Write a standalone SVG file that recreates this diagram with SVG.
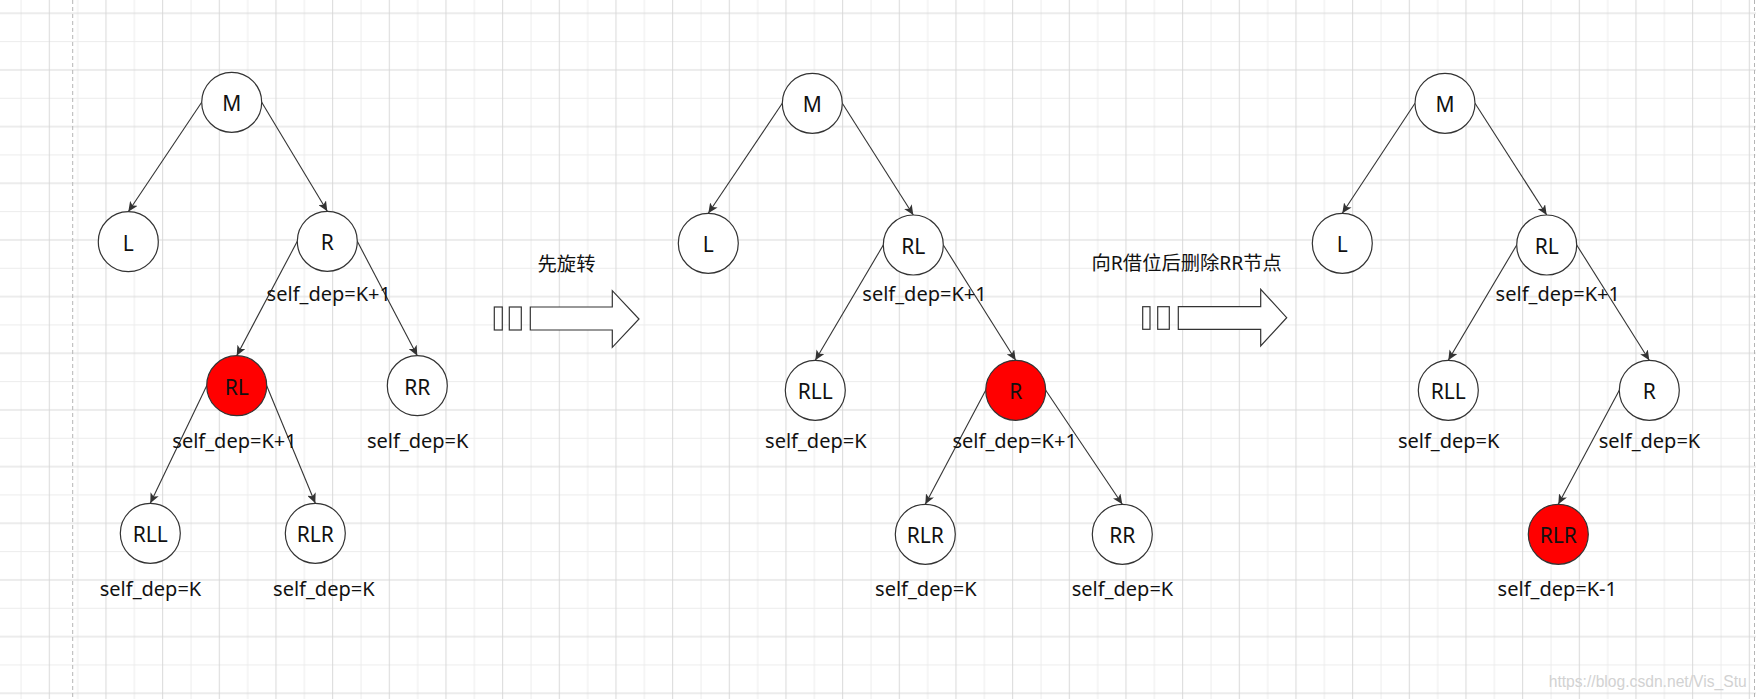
<svg xmlns="http://www.w3.org/2000/svg" width="1756" height="699" viewBox="0 0 1756 699">
<style>
.node{stroke:#333;stroke-width:1.2;fill:#fff}
.red{fill:#ff0000}
.nl{font-family:"Noto Sans","Liberation Sans",sans-serif;font-size:21px;fill:#111;text-anchor:middle}
.lb{font-family:"Noto Sans","Liberation Sans",sans-serif;font-size:20px;fill:#111;text-anchor:middle}
.cn{font-family:"Noto Sans","Noto Sans CJK SC",sans-serif;font-size:19.3px;fill:#111;text-anchor:middle}
.edge{stroke:#333;stroke-width:1.1;fill:none;marker-end:url(#arr)}
.shape{stroke:#333;stroke-width:1.2;fill:#fff}
</style>
<defs>
<pattern id="grid" x="11" y="3.333" width="56.667" height="56.667" patternUnits="userSpaceOnUse">
<path d="M10,0V56.667M0,38.333H56.667" stroke="#ececec" stroke-width="1" fill="none"/>
<path d="M38.333,0V56.667M0,10H56.667" stroke="#d9d9d9" stroke-width="1" fill="none"/>
</pattern>
<marker id="arr" markerUnits="userSpaceOnUse" markerWidth="11" markerHeight="9" refX="10" refY="4.5" orient="auto">
<path d="M0,0L10,4.5L0,9L2.5,4.5z" fill="#333"/>
</marker>
</defs>
<rect width="1756" height="699" fill="#fff"/>
<rect width="1756" height="699" fill="url(#grid)"/>
<line x1="72.7" y1="0" x2="72.7" y2="699" stroke="#b5b5b5" stroke-dasharray="4 3"/>
<line x1="1754.5" y1="0" x2="1754.5" y2="699" stroke="#b5b5b5" stroke-dasharray="4 3"/>

<g id="connectors">
<line class="edge" x1="201.7" y1="102.3" x2="128.3" y2="211.7"/>
<line class="edge" x1="261.7" y1="102.3" x2="327.3" y2="211.3"/>
<line class="edge" x1="297.3" y1="241.3" x2="236.7" y2="355.7"/>
<line class="edge" x1="357.3" y1="241.3" x2="417.3" y2="355.7"/>
<line class="edge" x1="206.7" y1="385.7" x2="150.3" y2="503.3"/>
<line class="edge" x1="266.7" y1="385.7" x2="315.3" y2="503.3"/>
<line class="edge" x1="782.3" y1="103.3" x2="708.3" y2="213.3"/>
<line class="edge" x1="842.3" y1="103.3" x2="913.3" y2="215"/>
<line class="edge" x1="883.3" y1="245" x2="815.3" y2="360.3"/>
<line class="edge" x1="943.3" y1="245" x2="1015.7" y2="360.3"/>
<line class="edge" x1="985.7" y1="390.3" x2="925.3" y2="504.3"/>
<line class="edge" x1="1045.7" y1="390.3" x2="1122.3" y2="504.3"/>
<line class="edge" x1="1415" y1="103.3" x2="1342.3" y2="213.3"/>
<line class="edge" x1="1475" y1="103.3" x2="1546.7" y2="215"/>
<line class="edge" x1="1516.7" y1="245" x2="1448.3" y2="360.3"/>
<line class="edge" x1="1576.7" y1="245" x2="1649.3" y2="360.3"/>
<line class="edge" x1="1619.3" y1="390.3" x2="1558.3" y2="504.3"/>
</g>

<!-- Tree 1 -->
<g id="t1-M"><circle class="node" cx="231.7" cy="102.3" r="30"/><text class="nl" x="231.7" y="111.2">M</text></g>
<g id="t1-L"><circle class="node" cx="128.3" cy="241.7" r="30"/><text class="nl" x="128.3" y="250.6">L</text></g>
<g id="t1-R"><circle class="node" cx="327.3" cy="241.3" r="30"/><text class="nl" x="327.3" y="250.2">R</text><text class="lb" x="328.8" y="300.7">self_dep=K+1</text></g>
<g id="t1-RL"><circle class="node red" cx="236.7" cy="385.7" r="30"/><text class="nl" x="236.7" y="394.5">RL</text><text class="lb" x="234.5" y="447.7">self_dep=K+1</text></g>
<g id="t1-RR"><circle class="node" cx="417.3" cy="385.7" r="30"/><text class="nl" x="417.3" y="394.5">RR</text><text class="lb" x="417.7" y="447.7">self_dep=K</text></g>
<g id="t1-RLL"><circle class="node" cx="150.3" cy="533.3" r="30"/><text class="nl" x="150.3" y="542.1">RLL</text><text class="lb" x="150.5" y="596">self_dep=K</text></g>
<g id="t1-RLR"><circle class="node" cx="315.3" cy="533.3" r="30"/><text class="nl" x="315.3" y="542.1">RLR</text><text class="lb" x="323.8" y="596">self_dep=K</text></g>

<!-- Arrow 1 -->
<g id="arrow1">
<text class="cn" x="566.5" y="271">先旋转</text>
<rect class="shape" x="494.3" y="307" width="8" height="23" fill="none"/>
<rect class="shape" x="509.3" y="307" width="12" height="23" fill="none"/>
<path class="shape" d="M530.3,307H612.3V290.7L639,319L612.3,347.3V330H530.3Z"/>
</g>

<!-- Tree 2 -->
<g id="t2-M"><circle class="node" cx="812.3" cy="103.3" r="30"/><text class="nl" x="812.3" y="112.2">M</text></g>
<g id="t2-L"><circle class="node" cx="708.3" cy="243.3" r="30"/><text class="nl" x="708.3" y="252.2">L</text></g>
<g id="t2-RL"><circle class="node" cx="913.3" cy="245" r="30"/><text class="nl" x="913.3" y="253.8">RL</text><text class="lb" x="924.5" y="300.7">self_dep=K+1</text></g>
<g id="t2-RLL"><circle class="node" cx="815.3" cy="390.3" r="30"/><text class="nl" x="815.3" y="399.1">RLL</text><text class="lb" x="815.8" y="447.7">self_dep=K</text></g>
<g id="t2-R"><circle class="node red" cx="1015.7" cy="390.3" r="30"/><text class="nl" x="1015.7" y="399.1">R</text><text class="lb" x="1014.7" y="447.7">self_dep=K+1</text></g>
<g id="t2-RLR"><circle class="node" cx="925.3" cy="534.3" r="30"/><text class="nl" x="925.3" y="543.1">RLR</text><text class="lb" x="925.8" y="596">self_dep=K</text></g>
<g id="t2-RR"><circle class="node" cx="1122.3" cy="534.3" r="30"/><text class="nl" x="1122.3" y="543.1">RR</text><text class="lb" x="1122.5" y="596">self_dep=K</text></g>

<!-- Arrow 2 -->
<g id="arrow2">
<text class="cn" x="1186.7" y="270">向R借位后删除RR节点</text>
<rect class="shape" x="1142.7" y="306.7" width="7.3" height="22.6" fill="none"/>
<rect class="shape" x="1157.7" y="306.7" width="11.6" height="22.6" fill="none"/>
<path class="shape" d="M1178.3,306.7H1260.7V289.3L1286.7,317.7L1260.7,346V329.3H1178.3Z"/>
</g>

<!-- Tree 3 -->
<g id="t3-M"><circle class="node" cx="1445" cy="103.3" r="30"/><text class="nl" x="1445" y="112.2">M</text></g>
<g id="t3-L"><circle class="node" cx="1342.3" cy="243.3" r="30"/><text class="nl" x="1342.3" y="252.2">L</text></g>
<g id="t3-RL"><circle class="node" cx="1546.7" cy="245" r="30"/><text class="nl" x="1546.7" y="253.8">RL</text><text class="lb" x="1557.8" y="300.7">self_dep=K+1</text></g>
<g id="t3-RLL"><circle class="node" cx="1448.3" cy="390.3" r="30"/><text class="nl" x="1448.3" y="399.1">RLL</text><text class="lb" x="1448.7" y="447.7">self_dep=K</text></g>
<g id="t3-R"><circle class="node" cx="1649.3" cy="390.3" r="30"/><text class="nl" x="1649.3" y="399.1">R</text><text class="lb" x="1649.5" y="447.7">self_dep=K</text></g>
<g id="t3-RLR"><circle class="node red" cx="1558.3" cy="534.3" r="30"/><text class="nl" x="1558.3" y="543.1">RLR</text><text class="lb" x="1557.3" y="596">self_dep=K-1</text></g>

<text x="1746.7" y="686.7" font-family="Liberation Sans, sans-serif" font-size="17" fill="#d2d2d2" text-anchor="end" textLength="198" lengthAdjust="spacingAndGlyphs">https://blog.csdn.net/Vis_Stu</text>
</svg>
